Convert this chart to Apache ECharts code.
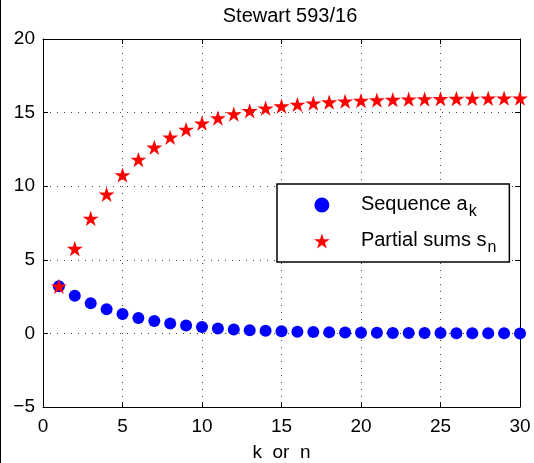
<!DOCTYPE html>
<html>
<head>
<meta charset="utf-8">
<script src="https://cdn.jsdelivr.net/npm/echarts@6/dist/echarts.min.js"></script>
<style>
  html, body { margin: 0; padding: 0; background: #fff; }
  #chart { width: 534px; height: 463px; }
</style>
</head>
<body>
<div id="chart"></div>
<script>
// index k / n
const steps = [1, 2, 3, 4, 5, 6, 7, 8, 9, 10, 11, 12, 13, 14, 15,
  16, 17, 18, 19, 20, 21, 22, 23, 24, 25, 26, 27, 28, 29, 30]
// sequence a_k (blue dots)
const seqValues = [3.2, 2.56, 2.05, 1.64, 1.31, 1.05, 0.84, 0.67, 0.54, 0.43,
  0.34, 0.27, 0.22, 0.18, 0.14, 0.11, 0.09, 0.07, 0.06, 0.05,
  0.04, 0.03, 0.02, 0.02, 0.02, 0.01, 0.01, 0.01, 0.01, 0.00]
// partial sums s_n (red stars)
const sumValues = [3.2, 5.76, 7.81, 9.45, 10.76, 11.81, 12.64, 13.32, 13.85, 14.28,
  14.63, 14.90, 15.12, 15.30, 15.44, 15.55, 15.64, 15.71, 15.77, 15.82,
  15.85, 15.88, 15.91, 15.92, 15.94, 15.95, 15.96, 15.97, 15.98, 15.98]
const xTicks = [0, 5, 10, 15, 20, 25, 30]
const yTicks = [-5, 0, 5, 10, 15, 20]

const STAR = 'path://M100,0 L122.45,69.1 L195.1,69.1 L136.3,111.8 L158.8,180.9 L100,138.2 L41.2,180.9 L63.7,111.8 L4.9,69.1 L77.55,69.1 Z'
const FONT = 'Liberation Sans'

let myChart = echarts.init(document.getElementById('chart'))

const gridLine = { show: true, lineStyle: { color: '#444', width: 1, type: [1, 6] } }
const axisLine = { show: true, onZero: false, lineStyle: { color: '#000', width: 1 } }
const axisTick = { show: true, inside: true, length: 5, lineStyle: { color: '#000' } }

let option = {
  animation: false,
  backgroundColor: '#fff',
  textStyle: { fontFamily: FONT },
  title: {
    text: 'Stewart 593/16',
    left: 285,
    textAlign: 'center',
    top: 1,
    textStyle: { fontFamily: FONT, fontSize: 20, fontWeight: 'normal', color: '#000' }
  },
  grid: { left: 43, right: 14, top: 39, bottom: 56, containLabel: false, outerBoundsMode: 'none' },
  legend: {
    orient: 'vertical',
    left: 277,
    top: 184,
    padding: [6, 13, 6, 37],
    itemGap: 6,
    itemWidth: 16,
    itemHeight: 15,
    backgroundColor: '#fff',
    borderColor: '#000',
    borderWidth: 1.5,
    borderRadius: 0,
    data: [
      { name: 'seq', icon: 'circle' },
      { name: 'sum', icon: STAR }
    ],
    formatter: function (name) {
      if (name === 'seq') return '{t|Sequence a}{s|k}'
      return '{t|Partial sums s}{s|n}'
    },
    textStyle: {
      padding: [0, 0, 0, 26],
      rich: {
        t: { fontFamily: FONT, fontSize: 20, color: '#000', lineHeight: 22, verticalAlign: 'top' },
        s: { fontFamily: FONT, fontSize: 16, color: '#000', lineHeight: 16, padding: [14, 0, 0, 1] }
      }
    }
  },
  xAxis: [
    {
      type: 'value', min: 0, max: 30, interval: 5,
      name: 'k  or  n', nameLocation: 'middle', nameGap: 36,
      nameTextStyle: { fontFamily: FONT, fontSize: 19, color: '#000' },
      axisLine: axisLine, axisTick: axisTick, splitLine: gridLine,
      axisLabel: { fontFamily: FONT, fontSize: 19, color: '#000', margin: 10,
        formatter: v => xTicks.includes(v) ? String(v) : '' }
    },
    {
      type: 'value', min: 0, max: 30, interval: 5, position: 'top',
      axisLine: axisLine, axisTick: axisTick, splitLine: { show: false },
      axisLabel: { show: false }
    }
  ],
  yAxis: [
    {
      type: 'value', min: -5, max: 20, interval: 5,
      axisLine: axisLine, axisTick: axisTick, splitLine: gridLine,
      axisLabel: { fontFamily: FONT, fontSize: 19, color: '#000', margin: 8,
        formatter: v => yTicks.includes(v) ? (v < 0 ? '\u2212' + Math.abs(v) : String(v)) : '' }
    },
    {
      type: 'value', min: -5, max: 20, interval: 5, position: 'right',
      axisLine: axisLine, axisTick: axisTick, splitLine: { show: false },
      axisLabel: { show: false }
    }
  ],
  series: [
    {
      name: 'seq',
      type: 'scatter',
      symbol: 'circle',
      symbolSize: 12,
      itemStyle: { color: '#0000ff', opacity: 1 },
      data: steps.map((k, i) => [k, seqValues[i]])
    },
    {
      name: 'sum',
      type: 'scatter',
      symbol: STAR,
      symbolKeepAspect: true,
      symbolSize: 16,
      clip: false,
      itemStyle: { color: '#ff0000', opacity: 1 },
      data: steps.map((n, i) => [n, sumValues[i]])
    }
  ],
  graphic: [
    { type: 'line', shape: { x1: 0.5, y1: 0, x2: 0.5, y2: 463 }, style: { stroke: '#000', lineWidth: 1 } }
  ]
}
myChart.setOption(option)
</script>
</body>
</html>
